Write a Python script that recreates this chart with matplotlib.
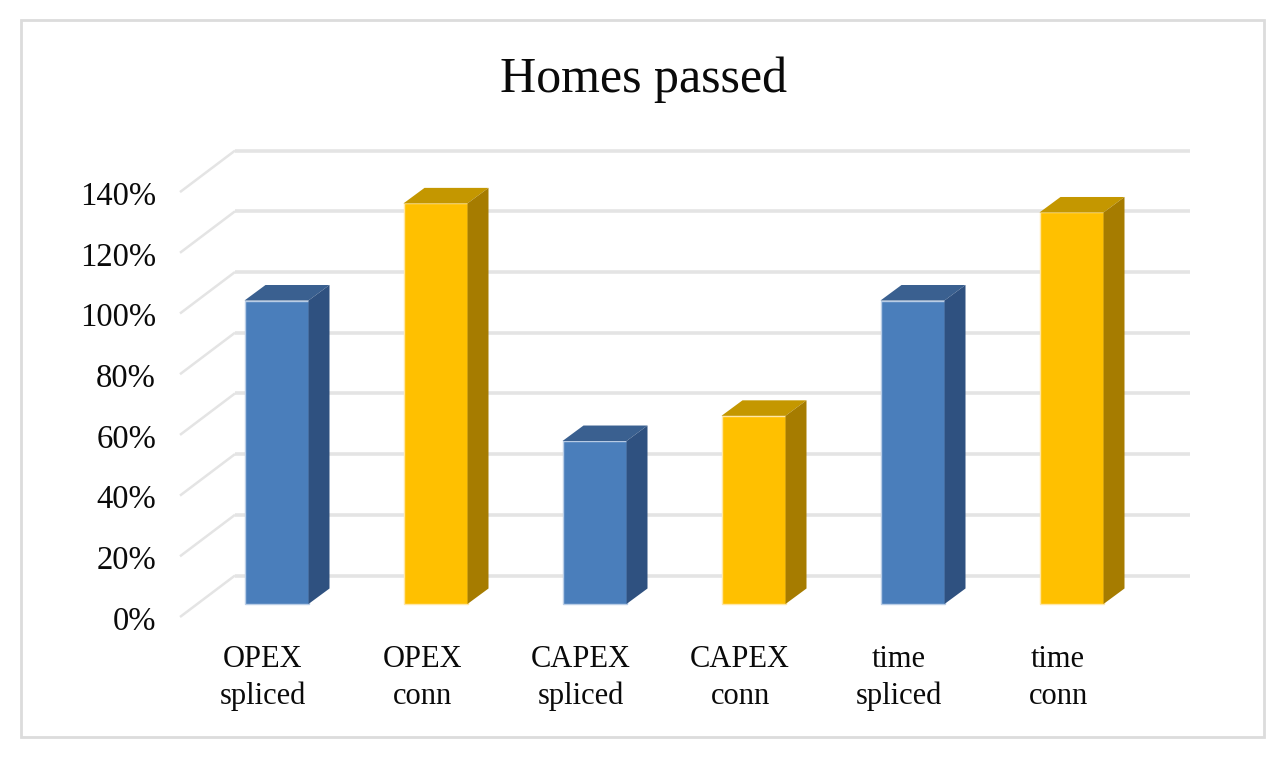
import matplotlib
matplotlib.use('Agg')
import matplotlib.pyplot as plt
from matplotlib.patches import Polygon, Rectangle

title = 'Homes passed'
categories = ['OPEX\nspliced', 'OPEX\nconn', 'CAPEX\nspliced', 'CAPEX\nconn', 'time\nspliced', 'time\nconn']
values = [100, 132, 53.7, 62, 100, 129]
y_ticks = [0, 20, 40, 60, 80, 100, 120, 140]

W, H = 1287, 759
# pixel scales of the chart: category spacing, pixels per percent
PX_CAT = 159.0
PX_PCT = 3.035
X0, Y0 = 276.5, 604.0

BAR_W = 64 / PX_CAT
DEPTH_X = 21 / PX_CAT
DEPTH_Y = 15.5 / PX_PCT

plt.rcParams['font.family'] = ['Liberation Serif', 'DejaVu Serif']

fig = plt.figure(figsize=(W / 100, H / 100), dpi=100)
ax = fig.add_axes([0, 0, 1, 1])
ax.set_xlim(-X0 / PX_CAT, (W - X0) / PX_CAT)
ax.set_ylim((Y0 - H) / PX_PCT, Y0 / PX_PCT)
ax.axis('off')

# outer frame
ax.add_patch(Rectangle((0.0167, 0.0296), 0.9658, 0.944, transform=ax.transAxes,
                       fill=False, edgecolor='#dcdcdc', linewidth=2.0, zorder=1))

# back wall grid and the floor/left wall diagonals
left_front = (180 - X0) / PX_CAT
left_back = (235 - X0) / PX_CAT
right_back = (1190 - X0) / PX_CAT
back_up = (Y0 - 575.5) / PX_PCT
front_down = (617 - Y0) / PX_PCT
for t in y_ticks:
    ax.plot([left_back, right_back], [t + back_up, t + back_up], color='#e4e4e4', lw=2.6,
            solid_capstyle='butt', zorder=2)
    ax.plot([left_front, left_back], [t - front_down, t + back_up], color='#e4e4e4', lw=1.8,
            solid_capstyle='butt', zorder=2)
    ax.text(-120.5 / PX_CAT, t - front_down - 1.5, f'{t}%', ha='right', va='center', fontsize=23.5, color='#0a0a0a')

blue = ('#4a7ebb', '#3a6090', '#2f5180')
yellow = ('#ffc000', '#c49700', '#a67c00')
for i, (cat, v) in enumerate(zip(categories, values)):
    front, top, side = blue if i % 2 == 0 else yellow
    l = i - BAR_W / 2
    r = i + BAR_W / 2
    halo = '#b9cde6' if i % 2 == 0 else '#ffe7a6'
    ax.add_patch(Polygon([(l, 0), (r, 0), (r, v), (l, v)], closed=True, facecolor=front,
                         edgecolor=halo, linewidth=1.0, zorder=3))
    ax.add_patch(Polygon([(l, v), (r, v), (r + DEPTH_X, v + DEPTH_Y), (l + DEPTH_X, v + DEPTH_Y)], closed=True,
                         facecolor=top, edgecolor='none', zorder=3))
    ax.add_patch(Polygon([(r, 0), (r + DEPTH_X, DEPTH_Y), (r + DEPTH_X, v + DEPTH_Y), (r, v)], closed=True,
                         facecolor=side, edgecolor='none', zorder=3))
    ax.text(i - 13.5 / PX_CAT, (Y0 - 678) / PX_PCT, cat, ha='center', va='center', fontsize=22,
            linespacing=1.33, color='#0a0a0a')

ax.text((644 - X0) / PX_CAT, (Y0 - 80) / PX_PCT, title, ha='center', va='center', fontsize=36, color='#0a0a0a')

fig.savefig('out.png', dpi=100, facecolor='white')
